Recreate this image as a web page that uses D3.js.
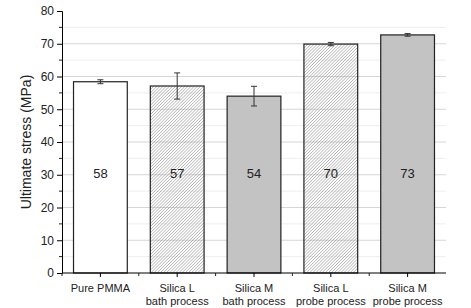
<!DOCTYPE html>
<html>
<head>
<meta charset="utf-8">
<script src="https://cdn.jsdelivr.net/npm/d3@7"></script>
<style>
  body { margin: 0; background: #fff; }
  text { font-family: "Liberation Sans", Arial, sans-serif; fill: #222; }
</style>
</head>
<body>
<div id="chart"></div>
<script>
// chart data
var samples = ["Pure PMMA", "Silica L bath", "Silica M bath", "Silica L probe", "Silica M probe"];
var labelLine1 = ["Pure PMMA", "Silica L", "Silica M", "Silica L", "Silica M"];
var labelLine2 = ["", "bath process", "bath process", "probe process", "probe process"];
var stress = [58.4, 57.1, 54.0, 69.9, 72.7];
var stressErr = [0.6, 4.0, 3.0, 0.5, 0.4];
var shownValues = ["58", "57", "54", "70", "73"];
var fillKind = ["plain", "hatch", "solid", "hatch", "solid"];
var yTicks = [0, 10, 20, 30, 40, 50, 60, 70, 80];

var width = 471, height = 308;
var margin = {left: 62, top: 11, right: 25, bottom: 35};

var svg = d3.select("#chart").append("svg")
    .attr("width", width)
    .attr("height", height);

// hatch pattern for the "L" samples
var defs = svg.append("defs");
defs.append("pattern")
    .attr("id", "hatch")
    .attr("patternUnits", "userSpaceOnUse")
    .attr("width", 2.2)
    .attr("height", 2.2)
    .attr("patternTransform", "rotate(45)")
  .append("line")
    .attr("x1", 0).attr("y1", 0)
    .attr("x2", 0).attr("y2", 2.2)
    .attr("stroke", "#777")
    .attr("stroke-width", 0.8);

var x = d3.scaleBand()
    .domain(samples)
    .range([margin.left, width - margin.right])
    .paddingInner(0.3)
    .paddingOuter(0.15);

var y = d3.scaleLinear()
    .domain([0, 80])
    .range([height - margin.bottom, margin.top]);

// grid lines
var minor = d3.range(5, 80, 10);
svg.append("g").selectAll("line.minor")
    .data(minor)
    .enter().append("line")
    .attr("x1", margin.left).attr("x2", width - margin.right)
    .attr("y1", function(d) { return y(d); })
    .attr("y2", function(d) { return y(d); })
    .attr("stroke", "#eeeeee");
svg.append("g").selectAll("line.major")
    .data(yTicks.slice(1, 8))
    .enter().append("line")
    .attr("x1", margin.left).attr("x2", width - margin.right)
    .attr("y1", function(d) { return y(d); })
    .attr("y2", function(d) { return y(d); })
    .attr("stroke", "#d6d6d6");

// bars
svg.selectAll("rect.bar")
    .data(samples)
    .enter().append("rect")
    .attr("class", "bar")
    .attr("x", function(d) { return x(d); })
    .attr("y", function(d, i) { return y(stress[i]); })
    .attr("width", x.bandwidth())
    .attr("height", function(d, i) { return y(0) - y(stress[i]); })
    .attr("fill", function(d, i) {
        if (fillKind[i] == "hatch") return "url(#hatch)";
        if (fillKind[i] == "solid") return "#c3c3c3";
        return "#fff";
    })
    .attr("stroke", "#222")
    .attr("stroke-width", 1.2);

// error bars
var errG = svg.append("g").attr("stroke", "#333").attr("stroke-width", 1);
samples.forEach(function(s, i) {
    var cx = x(s) + x.bandwidth() / 2;
    var top = y(stress[i] + stressErr[i]);
    var bot = y(stress[i] - stressErr[i]);
    errG.append("line").attr("x1", cx).attr("x2", cx).attr("y1", top).attr("y2", bot);
    errG.append("line").attr("x1", cx - 3).attr("x2", cx + 3).attr("y1", top).attr("y2", top);
    errG.append("line").attr("x1", cx - 3).attr("x2", cx + 3).attr("y1", bot).attr("y2", bot);
});

// value labels
svg.selectAll("text.val")
    .data(samples)
    .enter().append("text")
    .attr("x", function(d) { return x(d) + x.bandwidth() / 2; })
    .attr("y", y(29))
    .attr("text-anchor", "middle")
    .style("font-size", "13px")
    .text(function(d, i) { return shownValues[i]; });

// y axis
var yAxis = d3.axisLeft(y).tickValues(yTicks).tickSize(5).tickPadding(3);
var gy = svg.append("g")
    .attr("transform", "translate(" + margin.left + ",0)")
    .call(yAxis);
gy.selectAll("text").style("font-size", "12px");
gy.selectAll("line.minorTick")
    .data(minor)
    .enter().append("line")
    .attr("x1", -3).attr("x2", 0)
    .attr("y1", function(d) { return y(d); })
    .attr("y2", function(d) { return y(d); })
    .attr("stroke", "#222");

// x axis
var xAxis = d3.axisBottom(x).tickSize(4).tickFormat("");
var gx = svg.append("g")
    .attr("transform", "translate(0," + y(0) + ")")
    .call(xAxis);
gx.select(".domain").attr("d", "M" + margin.left + ",0H" + (width - margin.right));
var between = samples.slice(1).map(function(s) { return x(s) - x.step() * x.paddingInner() / 2; });
between.push(margin.left);
gx.selectAll("line.minorTick")
    .data(between)
    .enter().append("line")
    .attr("x1", function(d) { return d; }).attr("x2", function(d) { return d; })
    .attr("y1", 0).attr("y2", 3)
    .attr("stroke", "#222");

// category labels, two lines
svg.selectAll("text.cat1")
    .data(samples)
    .enter().append("text")
    .attr("x", function(d) { return x(d) + x.bandwidth() / 2; })
    .attr("y", 292)
    .attr("text-anchor", "middle")
    .style("font-size", "11px")
    .text(function(d, i) { return labelLine1[i]; });
svg.selectAll("text.cat2")
    .data(samples)
    .enter().append("text")
    .attr("x", function(d) { return x(d) + x.bandwidth() / 2; })
    .attr("y", 305)
    .attr("text-anchor", "middle")
    .style("font-size", "11px")
    .text(function(d, i) { return labelLine2[i]; });

// axis title
svg.append("text")
    .attr("transform", "translate(31," + ((y(0) + y(80)) / 2) + ") rotate(-90)")
    .attr("text-anchor", "middle")
    .style("font-size", "14px")
    .text("Ultimate stress (MPa)");
</script>
</body>
</html>
